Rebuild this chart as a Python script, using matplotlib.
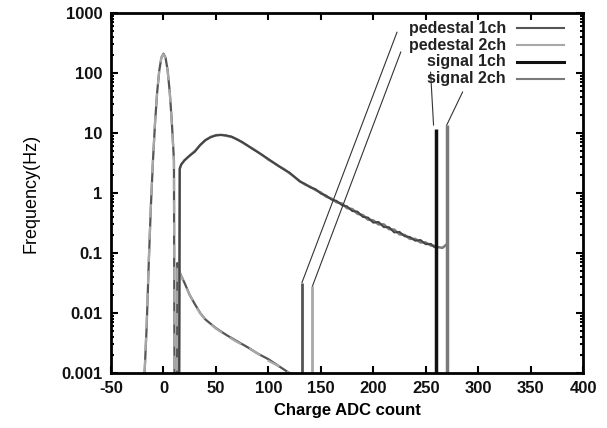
import matplotlib
matplotlib.use("Agg")
import matplotlib.pyplot as plt
from matplotlib.ticker import FixedLocator, FuncFormatter, NullFormatter, LogLocator

plt.rcParams["font.family"] = ["Liberation Sans", "DejaVu Sans"]
plt.rcParams["font.weight"] = "bold"
plt.rcParams["axes.unicode_minus"] = False

# pedestal histograms (peak + low tail)
ped_x = [-18, -16, -14, -12, -10, -8, -6, -4, -2, 0, 2, 4, 6, 8, 10, 10.5,
         13, 13.2, 14, 16, 20, 25, 30, 35, 40, 50, 60, 70, 80, 90, 100, 110, 120]
ped1_y = [0.001, 0.006, 0.07, 0.6, 3.5, 15, 48, 110, 180, 210, 180, 110, 48, 15, 3.5, 0.001,
          0.001, 0.068, 0.06, 0.045, 0.032, 0.02, 0.014, 0.01, 0.0078, 0.0056, 0.0043,
          0.0034, 0.0027, 0.0021, 0.0017, 0.0013, 0.001]
ped2_y = [0.001, 0.007, 0.075, 0.62, 3.6, 15.5, 49, 112, 182, 205, 178, 108, 47, 14.5, 3.3, 0.001,
          0.001, 0.066, 0.058, 0.044, 0.031, 0.02, 0.0138, 0.0099, 0.0077, 0.0055, 0.0042,
          0.0033, 0.0027, 0.0021, 0.0016, 0.0013, 0.001]

# signal spectra
sig_x = [15, 15.5, 17, 20, 25, 30, 35, 40, 45, 50, 55, 60, 65, 70, 75, 80, 85, 90, 95,
         100, 105, 110, 115, 120, 125, 130, 135, 140, 145, 150, 155, 160, 165, 170,
         175, 180, 185, 190, 195, 200, 205, 210, 215, 220, 225, 230, 235, 240, 245,
         250, 255, 258]
sig1_y = [0.001, 2.6, 3.0, 3.5, 4.2, 4.9, 6.3, 7.6, 8.5, 9.1, 9.3, 9.1, 8.7, 7.8, 7.1,
          6.2, 5.4, 4.8, 4.2, 3.7, 3.2, 2.8, 2.45, 2.2, 1.85, 1.55, 1.42, 1.24, 1.16, 0.98,
          0.91, 0.78, 0.74, 0.63, 0.6, 0.5, 0.49, 0.4, 0.39, 0.32, 0.33, 0.27, 0.27, 0.22,
          0.225, 0.19, 0.185, 0.16, 0.165, 0.14, 0.142, 0.126]
sig2_x = sig_x + [262, 266, 268, 270]
sig2_y = [0.001, 2.5, 3.0, 3.5, 4.2, 5.0, 6.3, 7.6, 8.6, 9.2, 9.3, 9.0, 8.6, 7.9, 7.0,
          6.2, 5.5, 4.8, 4.2, 3.6, 3.2, 2.8, 2.5, 2.15, 1.85, 1.58, 1.38, 1.27, 1.12, 1.02,
          0.87, 0.81, 0.7, 0.67, 0.56, 0.54, 0.45, 0.43, 0.36, 0.35, 0.3, 0.3, 0.25, 0.245,
          0.205, 0.2, 0.172, 0.172, 0.15, 0.15, 0.133, 0.132, 0.125, 0.122, 0.13, 0.14]

# overflow bars
ped_bar_x = [132, 142]
ped_bar_top = [0.032, 0.028]
sig_bar_x = [260, 270]
sig_bar_top = [11.7, 13.5]

labels = ["pedestal 1ch", "pedestal 2ch", "signal 1ch", "signal 2ch"]
colors = ["#555555", "#a8a8a8", "#111111", "#7a7a7a"]
yticks = [0.001, 0.01, 0.1, 1, 10, 100, 1000]

fig = plt.figure(figsize=(6.07, 4.28), dpi=100)
ax = fig.add_axes([0.1829, 0.1285, 0.7776, 0.8411])

ax.plot(ped_x, ped1_y, color=colors[0], lw=1.6)
ax.plot(ped_x, ped2_y, color=colors[1], lw=1.6, dashes=(6, 4))
ax.plot(sig2_x, sig2_y, color=colors[3], lw=1.8)
ax.plot(sig_x, sig1_y, color="#444444", lw=1.4)

ax.vlines(ped_bar_x[0], 0.001, ped_bar_top[0], color=colors[0], lw=2)
ax.vlines(ped_bar_x[1], 0.001, ped_bar_top[1], color=colors[1], lw=2)
ax.vlines(sig_bar_x[0], 0.001, sig_bar_top[0], color=colors[2], lw=2.5)
ax.vlines(sig_bar_x[1], 0.001, sig_bar_top[1], color=colors[3], lw=2.5)

# pointer lines from the labels to the overflow bars
starts = [(0.606, 0.947), (0.614, 0.892), (0.677, 0.836), (0.745, 0.781)]
ends = [(ped_bar_x[0], ped_bar_top[0]), (ped_bar_x[1], ped_bar_top[1]),
        (257.5, 13.5), (sig_bar_x[1], sig_bar_top[1])]
for s, e in zip(starts, ends):
    ax.annotate("", xy=e, xytext=s, textcoords="axes fraction",
                arrowprops=dict(arrowstyle="-", lw=0.8, color="#333333",
                                shrinkA=0, shrinkB=0))

# key
rows = [0.958, 0.911, 0.864, 0.817]
for lab, col, yy in zip(labels, colors, rows):
    ax.text(0.837, yy, lab, transform=ax.transAxes, ha="right", va="center",
            fontsize=11.5, fontweight="bold", color="#222222")
    ax.plot([0.860, 0.960], [yy, yy], transform=ax.transAxes, color=col,
            lw=2.2 if lab == "signal 1ch" else 1.5)

ax.set_yscale("log")
ax.set_xlim(-50, 400)
ax.set_ylim(0.001, 1000)
ax.xaxis.set_major_locator(FixedLocator(range(-50, 401, 50)))
ax.yaxis.set_major_locator(FixedLocator(yticks))
ax.yaxis.set_major_formatter(FuncFormatter(lambda v, p: "%g" % v))
ax.yaxis.set_minor_locator(LogLocator(base=10, subs=range(2, 10)))
ax.yaxis.set_minor_formatter(NullFormatter())

for s in ax.spines.values():
    s.set_linewidth(2)
ax.tick_params(which="both", direction="in", top=True, right=True, width=1.5)
ax.tick_params(which="major", length=5, labelsize=12, pad=6)
ax.tick_params(which="minor", length=2.5)

ax.set_xlabel("Charge ADC count", fontsize=12, fontweight="bold", labelpad=5)
ax.set_ylabel("Frequency(Hz)", fontsize=13, fontweight="normal", labelpad=16)

fig.canvas.draw()
for t in ax.get_xticklabels() + ax.get_yticklabels():
    t.set_fontweight("bold")
    t.set_color("#111111")

fig.savefig("out.png", dpi=100)
